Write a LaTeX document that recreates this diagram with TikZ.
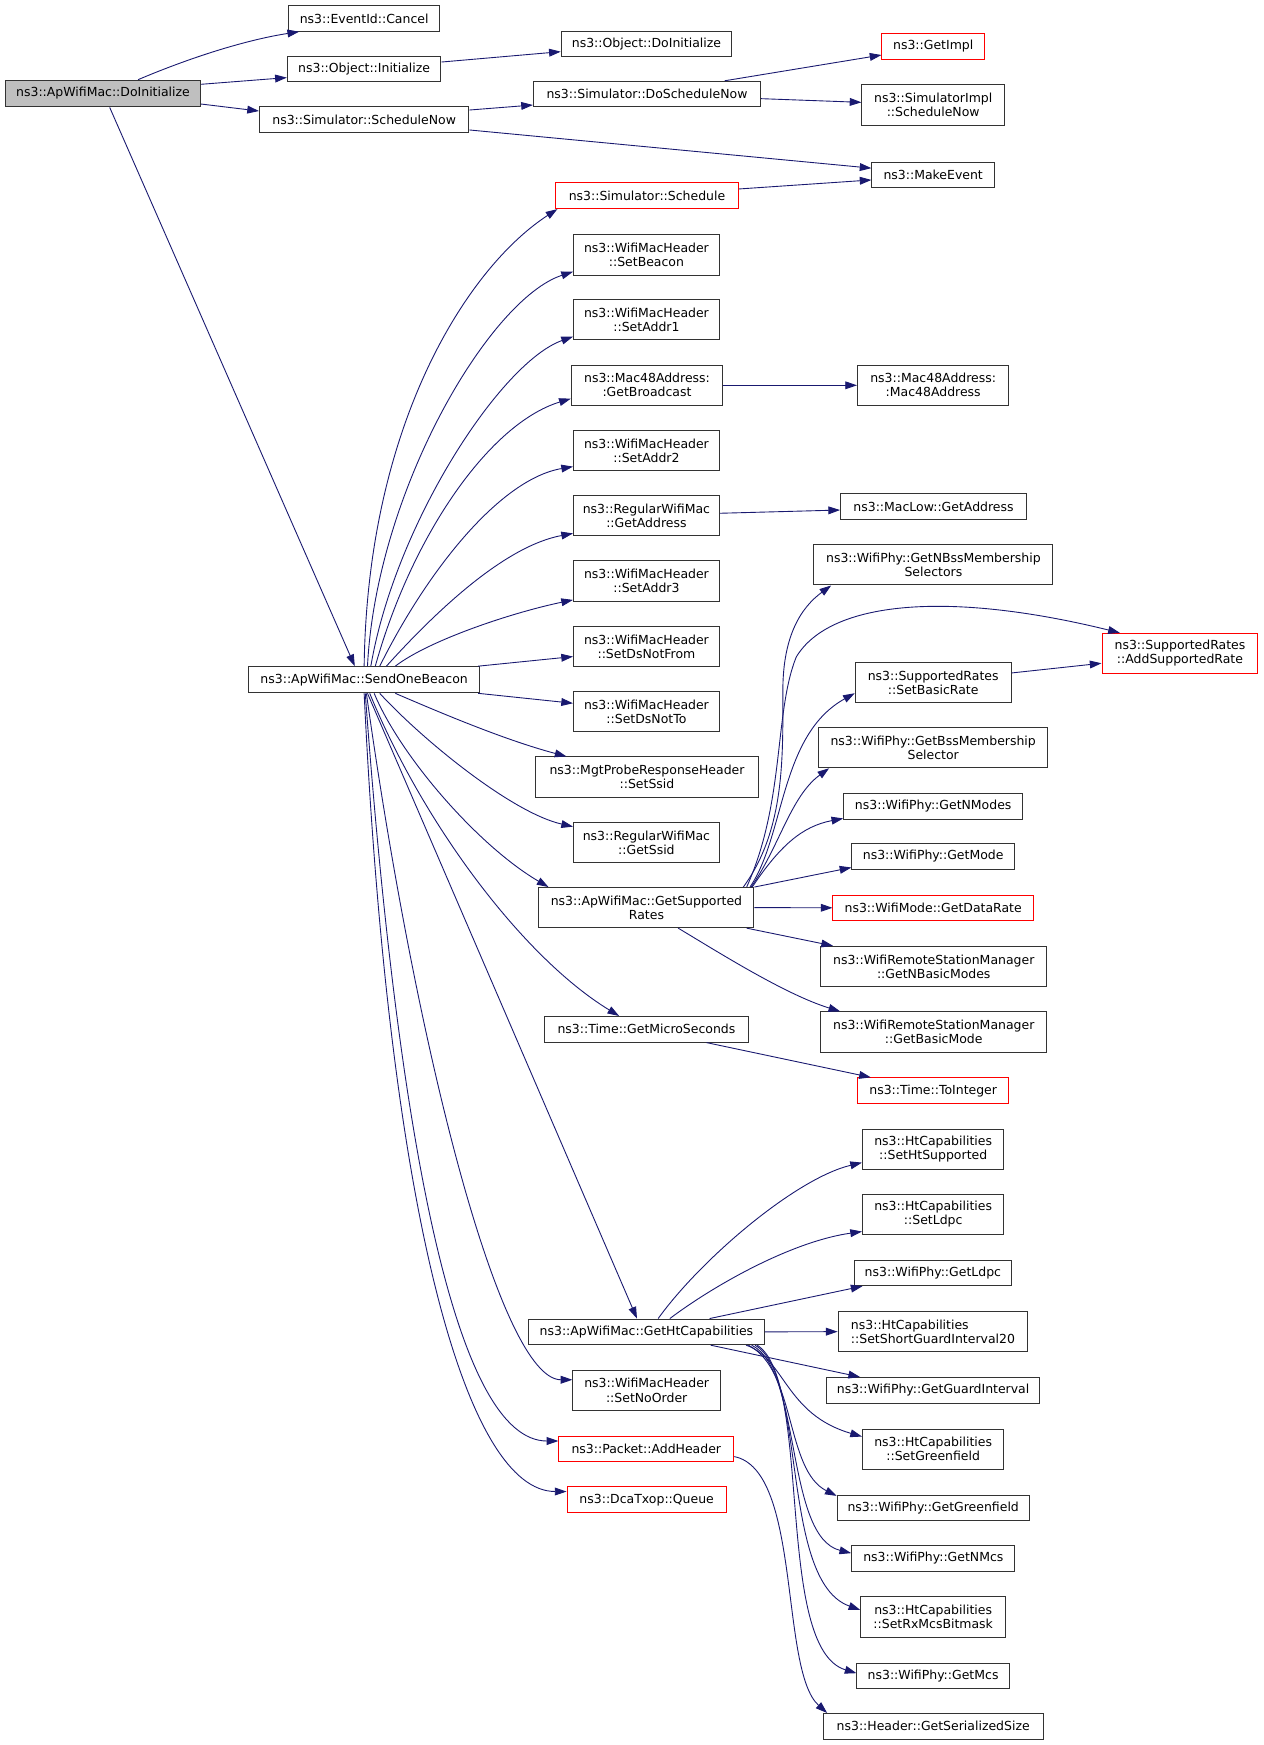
\documentclass[tikz,border=0pt]{standalone}
\usepackage{fontspec}
\setmainfont{DejaVu Sans}
\usetikzlibrary{arrows.meta}
\definecolor{edgeblue}{HTML}{191970}
\definecolor{rootgray}{HTML}{BFBFBF}
\definecolor{boxline}{HTML}{333333}
\tikzset{
  box/.style={draw=boxline, line width=0.9pt, fill=white, inner sep=0pt, align=center,
    font=\fontsize{11.2pt}{12.6pt}\selectfont, minimum height=23pt},
  tall/.style={minimum height=36pt},
  redbox/.style={box, draw=red},
  edge/.style={draw=edgeblue, line width=0.8pt, -{Triangle[length=10.5pt,width=7pt]}}
}
\begin{document}
\begin{tikzpicture}[x=1pt,y=-1pt]
\fill[white] (0,0) rectangle (1135,1567);
\useasboundingbox (0,0) rectangle (1135,1567);

% ---------- nodes ----------
\node[box, fill=rootgray, minimum width=175pt, minimum height=24pt] (root) at (92.5,84) {ns3::ApWifiMac::DoInitialize};
\node[box, minimum width=136pt] (cancel) at (327,16.5) {ns3::EventId::Cancel};
\node[box, minimum width=138pt] (objinit) at (327,62) {ns3::Object::Initialize};
\node[box, minimum width=188pt] (schednow) at (327,107.5) {ns3::Simulator::ScheduleNow};
\node[box, minimum width=153pt] (objdoinit) at (580.5,39.5) {ns3::Object::DoInitialize};
\node[box, minimum width=204pt] (doschednow) at (581,84.5) {ns3::Simulator::DoScheduleNow};
\node[redbox, minimum width=92pt] (getimpl) at (838,41.5) {ns3::GetImpl};
\node[box, tall, minimum width=128pt] (simimplsn) at (838,94.3) {ns3::SimulatorImpl\\::ScheduleNow};
\node[box, minimum width=110pt] (makeevent) at (838,157) {ns3::MakeEvent};
\node[redbox, minimum width=164pt] (schedule) at (581,175.8) {ns3::Simulator::Schedule};
\node[box, tall, minimum width=131pt] (setbeacon) at (580.5,229) {ns3::WifiMacHeader\\::SetBeacon};
\node[box, tall, minimum width=131pt] (setaddr1) at (580.5,287) {ns3::WifiMacHeader\\::SetAddr1};
\node[box, tall, minimum width=136pt] (getbroadcast) at (581,346) {ns3::Mac48Address:\\:GetBroadcast};
\node[box, tall, minimum width=136pt] (mac48) at (838,346) {ns3::Mac48Address:\\:Mac48Address};
\node[box, tall, minimum width=131pt] (setaddr2) at (580.5,404.7) {ns3::WifiMacHeader\\::SetAddr2};
\node[box, tall, minimum width=131pt] (getaddress) at (580.5,463) {ns3::RegularWifiMac\\::GetAddress};
\node[box, minimum width=167pt] (maclow) at (838.3,454.7) {ns3::MacLow::GetAddress};
\node[box, tall, minimum width=131pt] (setaddr3) at (580.5,521.7) {ns3::WifiMacHeader\\::SetAddr3};
\node[box, tall, minimum width=131pt] (setdsnotfrom) at (580.5,580.7) {ns3::WifiMacHeader\\::SetDsNotFrom};
\node[box, tall, minimum width=131pt] (setdsnotto) at (580.5,639) {ns3::WifiMacHeader\\::SetDsNotTo};
\node[box, tall, minimum width=200pt] (mgtssid) at (581,697.7) {ns3::MgtProbeResponseHeader\\::SetSsid};
\node[box, tall, minimum width=131pt] (getssid) at (580.5,756.7) {ns3::RegularWifiMac\\::GetSsid};
\node[box, minimum width=208pt, minimum height=23.5pt] (sob) at (327,610.4) {ns3::ApWifiMac::SendOneBeacon};
\node[box, tall, minimum width=193pt] (getsuprates) at (580.5,815) {ns3::ApWifiMac::GetSupported\\Rates};
\node[box, minimum width=183.5pt] (getmicro) at (580.5,924.3) {ns3::Time::GetMicroSeconds};
\node[box, minimum width=212pt] (gethtcap) at (580.5,1196) {ns3::ApWifiMac::GetHtCapabilities};
\node[box, tall, minimum width=132.5pt] (setnoorder) at (580.7,1248.5) {ns3::WifiMacHeader\\::SetNoOrder};
\node[redbox, minimum width=157pt] (addheader) at (580.4,1301.2) {ns3::Packet::AddHeader};
\node[redbox, minimum width=143pt] (queue) at (580.7,1346.7) {ns3::DcaTxop::Queue};

\node[box, tall, minimum width=214.7pt] (nbss) at (838.2,507.3) {ns3::WifiPhy::GetNBssMembership\\Selectors};
\node[redbox, tall, minimum width=140pt] (addsuprate) at (1059.6,586.7) {ns3::SupportedRates\\::AddSupportedRate};
\node[box, tall, minimum width=140pt] (setbasicrate) at (838,613) {ns3::SupportedRates\\::SetBasicRate};
\node[box, tall, minimum width=206pt] (bss) at (838,671.4) {ns3::WifiPhy::GetBssMembership\\Selector};
\node[box, minimum width=160.7pt] (getnmodes) at (838,724) {ns3::WifiPhy::GetNModes};
\node[box, minimum width=146pt] (getmode) at (838,769) {ns3::WifiPhy::GetMode};
\node[redbox, minimum width=180pt] (getdatarate) at (838,815.2) {ns3::WifiMode::GetDataRate};
\node[box, tall, minimum width=203pt] (getnbasic) at (838.5,867.8) {ns3::WifiRemoteStationManager\\::GetNBasicModes};
\node[box, tall, minimum width=203pt] (getbasic) at (838.5,926.7) {ns3::WifiRemoteStationManager\\::GetBasicMode};
\node[redbox, minimum width=135.3pt] (tointeger) at (838,979.4) {ns3::Time::ToInteger};
\node[box, tall, minimum width=127pt] (sethtsup) at (838,1032) {ns3::HtCapabilities\\::SetHtSupported};
\node[box, tall, minimum width=127pt] (setldpc) at (838,1090.6) {ns3::HtCapabilities\\::SetLdpc};
\node[box, minimum width=141.4pt] (getldpc) at (837.7,1143) {ns3::WifiPhy::GetLdpc};
\node[box, tall, minimum width=170.4pt, align=left] (setsgi) at (837.8,1195.8) {ns3::HtCapabilities\\::SetShortGuardInterval20};
\node[box, minimum width=191.8pt] (getgi) at (837.9,1248.5) {ns3::WifiPhy::GetGuardInterval};
\node[box, tall, minimum width=127pt] (setgreen) at (838,1301.3) {ns3::HtCapabilities\\::SetGreenfield};
\node[box, minimum width=172.5pt] (getgreen) at (838,1354.1) {ns3::WifiPhy::GetGreenfield};
\node[box, minimum width=146.6pt] (getnmcs) at (838.1,1399.5) {ns3::WifiPhy::GetNMcs};
\node[box, tall, minimum width=130pt] (setrxmcs) at (838,1452) {ns3::HtCapabilities\\::SetRxMcsBitmask};
\node[box, minimum width=136.7pt] (getmcs) at (837.9,1505) {ns3::WifiPhy::GetMcs};
\node[box, minimum width=197.5pt] (getser) at (838,1550.2) {ns3::Header::GetSerializedSize};

% ---------- edges ----------
\draw[edge] ([xshift=31.5]root.north) .. controls (170,52) and (220,36) .. ([xshift=-58.4]cancel.south);
\draw[edge] ([yshift=8.3]root.east) -- ([yshift=-7.7]objinit.west);
\draw[edge] ([yshift=-9.4]root.east) -- ([yshift=7.8]schednow.west);
\draw[edge] ([xshift=6]root.south) -- ([xshift=-8.4]sob.north);
\draw[edge] ([yshift=6.3]objinit.east) -- ([yshift=-6.9]objdoinit.west);
\draw[edge] ([yshift=8.7]schednow.east) -- ([yshift=-9.8]doschednow.west);
\draw[edge] ([yshift=-9.2]schednow.east) -- ([yshift=6]makeevent.west);
\draw[edge] ([xshift=69.7]doschednow.north) -- ([yshift=-7.9]getimpl.west);
\draw[edge] ([yshift=-4.1]doschednow.east) -- ([yshift=2.4]simimplsn.west);
\draw[edge] ([yshift=6.1]schedule.east) -- ([yshift=-4.6]makeevent.west);
\draw[edge] (getbroadcast) -- (mac48);
\draw[edge] ([yshift=2.1]getaddress.east) -- ([yshift=-3.3]maclow.west);
\draw[edge] ([yshift=8.7]setbasicrate.east) -- ([yshift=-8.9]addsuprate.west);
\draw[edge] ([xshift=54]getmicro.south) -- ([xshift=-56]tointeger.north);

% SendOneBeacon, upper fan
\draw[edge] (sob.north) .. controls (330,380) and (420,240) .. ([xshift=2]schedule.south west);
\draw[edge] ([xshift=3]sob.north) .. controls (338,440) and (440,268) .. ([yshift=-15]setbeacon.west);
\draw[edge] ([xshift=6]sob.north) .. controls (355,470) and (450,325) .. ([yshift=-15.3]setaddr1.west);
\draw[edge] ([xshift=10]sob.north) .. controls (370,480) and (440,380) .. ([yshift=-12]getbroadcast.west);
\draw[edge] ([xshift=14]sob.north) .. controls (385,510) and (450,430) .. ([yshift=-14.3]setaddr2.west);
\draw[edge] ([xshift=20]sob.north) .. controls (395,545) and (455,490) .. ([yshift=-16]getaddress.west);
\draw[edge] ([xshift=28]sob.north) .. controls (385,575) and (460,550) .. ([yshift=-17]setaddr3.west);
\draw[edge] ([xshift=-2]sob.north east) -- ([yshift=-8.9]setdsnotfrom.west);
% SendOneBeacon, lower fan
\draw[edge] ([xshift=-2]sob.south east) -- ([yshift=7.5]setdsnotto.west);
\draw[edge] ([xshift=28]sob.south) .. controls (400,642) and (455,665) .. ([xshift=-72.3]mgtssid.north);
\draw[edge] ([xshift=14]sob.south) .. controls (380,665) and (460,730) .. ([yshift=14.4]getssid.west);
\draw[edge] ([xshift=9]sob.south) .. controls (360,680) and (430,760) .. ([xshift=9]getsuprates.north west);
\draw[edge] ([xshift=5]sob.south) .. controls (380,740) and (470,860) .. ([xshift=-24.5]getmicro.north);
\draw[edge] ([xshift=3]sob.south) -- ([xshift=-8.5]gethtcap.north);
\draw[edge] ([xshift=2]sob.south) .. controls (375,950) and (450,1239) .. ([yshift=9.5]setnoorder.west);
\draw[edge] ([xshift=1]sob.south) .. controls (358,1030) and (410,1294) .. ([yshift=7.2]addheader.west);
\draw[edge] (sob.south) .. controls (350,1100) and (420,1339) .. ([yshift=7.3]queue.west);

% GetSupportedRates
\draw[edge] ([xshift=87]getsuprates.north) .. controls (705,745) and (703,680) .. (703,620) .. controls (703,570) and (720,545) .. ([xshift=16]nbss.south west);
\draw[edge] ([xshift=90]getsuprates.north) .. controls (705,720) and (695,640) .. (715,590) .. controls (745,540) and (850,530) .. ([xshift=-54]addsuprate.north);
\draw[edge] ([xshift=93]getsuprates.north) .. controls (705,750) and (700,660) .. ([yshift=-9.5]setbasicrate.west);
\draw[edge] ([xshift=94]getsuprates.north) .. controls (700,760) and (710,715) .. ([xshift=10]bss.south west);
\draw[edge] ([xshift=95]getsuprates.north) .. controls (700,760) and (720,742) .. ([yshift=1]getnmodes.south west);
\draw[edge] (getsuprates.north east) -- ([yshift=-10]getmode.west);
\draw[edge] (getsuprates.east) -- (getdatarate.west);
\draw[edge] ([xshift=-7]getsuprates.south east) -- ([xshift=11.5]getnbasic.north west);
\draw[edge] ([xshift=28.5]getsuprates.south) .. controls (645,855) and (705,893) .. ([xshift=18]getbasic.north west);

% GetHtCapabilities
\draw[edge] ([xshift=10.5]gethtcap.north) .. controls (630,1130) and (715,1058) .. ([yshift=-12]sethtsup.west);
\draw[edge] ([xshift=21]gethtcap.north) .. controls (640,1155) and (710,1115) .. ([yshift=-15.3]setldpc.west);
\draw[edge] ([xshift=56.7]gethtcap.north) -- ([xshift=8]getldpc.south west);
\draw[edge] (gethtcap.east) -- (setsgi.west);
\draw[edge] ([xshift=57.7]gethtcap.south) -- ([xshift=30.8]getgi.north west);
\draw[edge] ([xshift=89.5]gethtcap.south) .. controls (705,1220) and (705,1270) .. ([yshift=11.3]setgreen.west);
\draw[edge] ([xshift=91.5]gethtcap.south) .. controls (715,1230) and (705,1320) .. ([yshift=10.8]getgreen.west);
\draw[edge] ([xshift=94.5]gethtcap.south) .. controls (720,1230) and (705,1380) .. ([yshift=4.8]getnmcs.west);
\draw[edge] ([xshift=97.5]gethtcap.south) .. controls (725,1235) and (700,1420) .. ([yshift=6.3]setrxmcs.west);
\draw[edge] ([xshift=99.5]gethtcap.south) .. controls (730,1240) and (695,1480) .. ([yshift=2.5]getmcs.west);
\draw[edge] ([yshift=-6.8]addheader.east) .. controls (720,1320) and (700,1500) .. ([xshift=4]getser.north west);
\end{tikzpicture}
\end{document}
